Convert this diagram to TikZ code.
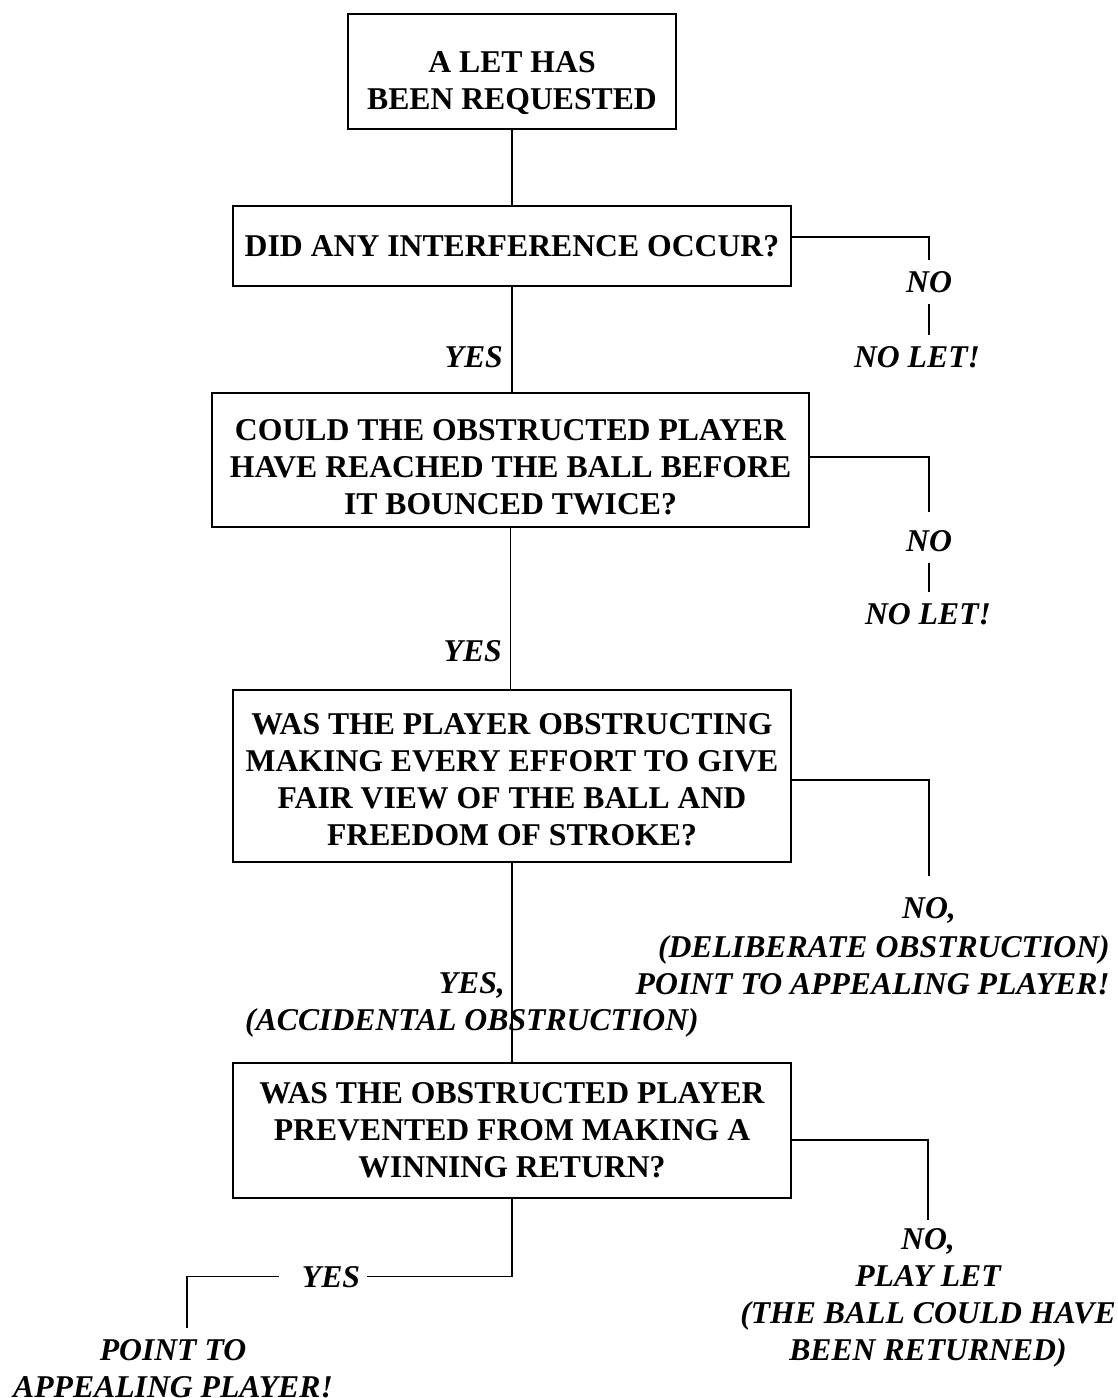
\documentclass[tikz,border=0pt]{standalone}
\usepackage{fontspec}
\setmainfont{Liberation Serif}
\begin{document}
\begin{tikzpicture}[x=1pt,y=-1pt,
  box/.style={draw, line width=2.2pt, inner sep=0pt},
  qtext/.style={font=\fontsize{31.7pt}{37pt}\selectfont\bfseries, align=center, inner sep=0pt, anchor=base},
  ans/.style={font=\fontsize{31.7pt}{37pt}\selectfont\bfseries\itshape, align=center, inner xsep=0pt, inner ysep=11pt, anchor=base},
  conn/.style={line width=1.6pt}]
\useasboundingbox (0,0) rectangle (1117,1398);

% boxes
\node[box, minimum width=328pt, minimum height=115pt] (b1) at (512,71.5) {};
\node[box, minimum width=558pt, minimum height=80pt] (b2) at (512,246) {};
\node[box, minimum width=597pt, minimum height=134pt] (b3) at (510.5,460) {};
\node[box, minimum width=558pt, minimum height=172pt] (b4) at (512,776) {};
\node[box, minimum width=558pt, minimum height=135pt] (b5) at (512,1130.5) {};

% box texts (base anchor = baseline of the last line)
\node[qtext] (t1) at (512,109) {A LET HAS\\BEEN REQUESTED};
\node[qtext] (t2) at (512,256) {DID ANY INTERFERENCE OCCUR?};
\node[qtext] (t3) at (510.5,514) {COULD THE OBSTRUCTED PLAYER\\HAVE REACHED THE BALL BEFORE\\IT BOUNCED TWICE?};
\node[qtext] (t4) at (512,845) {WAS THE PLAYER OBSTRUCTING\\MAKING EVERY EFFORT TO GIVE\\FAIR VIEW OF THE BALL AND\\FREEDOM OF STROKE?};
\node[qtext] (t5) at (512,1177) {WAS THE OBSTRUCTED PLAYER\\PREVENTED FROM MAKING A\\WINNING RETURN?};

% answer labels
\node[ans] (n1) at (929,292) {NO};
\node[ans] (l1) at (917,367) {NO LET!};
\node[ans, anchor=base east] (y1) at (503,367) {YES};
\node[ans] (n2) at (929,551) {NO};
\node[ans] (l2) at (928,624) {NO LET!};
\node[ans, anchor=base east] (y2) at (502,661) {YES};
\node[ans, anchor=base west] (n3) at (902,918) {NO,};
\node[ans, align=right, anchor=base east] (d3) at (1110,994) {(DELIBERATE OBSTRUCTION)\\POINT TO APPEALING PLAYER!};
\node[ans, anchor=base east] (y3) at (505,993) {YES,};
\node[ans] (a3) at (472,1030) {(ACCIDENTAL OBSTRUCTION)};
\node[ans] (n4) at (928,1360) {NO,\\PLAY LET\\(THE BALL COULD HAVE\\BEEN RETURNED)};
\node[ans, inner xsep=7pt] (y4) at (331,1287) {YES};
\node[ans] (p4) at (173,1397) {POINT TO\\APPEALING PLAYER!};

% connectors
\draw[conn] (b1.south) -- (b2.north);
\draw[conn] (b2.south) -- (b2.south |- b3.north);
\draw[conn] (b3.south) -- (b3.south |- b4.north);
\draw[conn] (b4.south) -- (b4.south |- b5.north);
\draw[conn] ([yshift=9pt]b2.east) -| (n1.north);
\draw[conn] (n1.south) -- (n1.south |- l1.north);
\draw[conn] ([yshift=3pt]b3.east) -| ([yshift=7pt]n2.north);
\draw[conn] (n2.south) -- (n2.south |- l2.north);
\draw[conn] ([yshift=-4pt]b4.east) -| ([yshift=10pt]n3.north);
\draw[conn] ([yshift=-9.5pt]b5.east) -| ([yshift=-3pt]n4.north);
\draw[conn] (b5.south) |- (y4.east);
\draw[conn] ([xshift=-16pt]y4.west) -| ([xshift=14pt]p4.north);
\end{tikzpicture}
\end{document}
